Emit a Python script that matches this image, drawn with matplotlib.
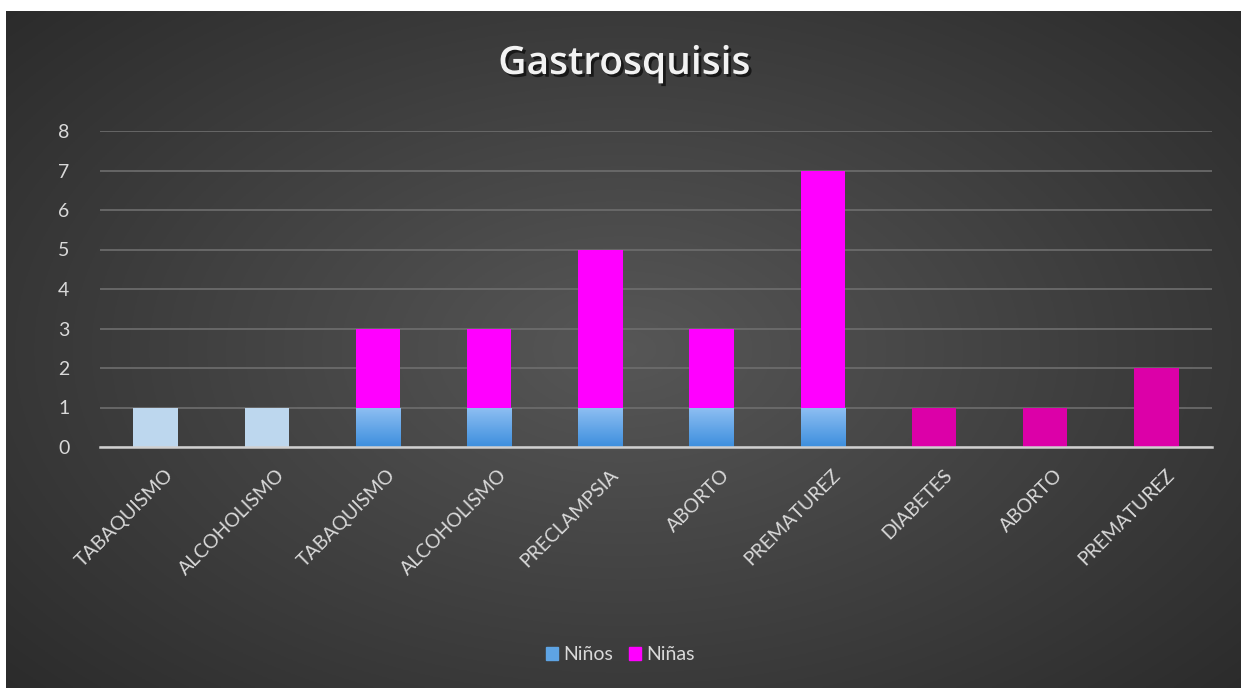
import numpy as np
import matplotlib.pyplot as plt
import matplotlib.patheffects as pe
from matplotlib.patches import Patch

# --- DATOS ---
categorias = ["TABAQUISMO", "ALCOHOLISMO", "TABAQUISMO", "ALCOHOLISMO", "PRECLAMPSIA",
              "ABORTO", "PREMATUREZ", "DIABETES", "ABORTO", "PREMATUREZ"]
ninos = [1, 1, 1, 1, 1, 1, 1, 0, 0, 0]
ninas = [0, 0, 2, 2, 4, 2, 6, 1, 1, 2]
yticks = [0, 1, 2, 3, 4, 5, 6, 7, 8]

# colores por barra (las dos primeras y las tres ultimas tienen otro tono)
col_ninos = ['#bdd7ee', '#bdd7ee'] + ['#5ea4e4'] * 5 + ['#5ea4e4'] * 3
col_ninas = ['#ff00ff'] * 7 + ['#dc00a8'] * 3

plt.rcParams['font.family'] = ['Lato', 'DejaVu Sans']
W, H = 1241, 688
fig = plt.figure(figsize=(W / 100, H / 100), dpi=100, facecolor='white')

# fondo oscuro con degradado radial
bg = fig.add_axes([6 / W, 0, 1 - 6 / W, (H - 11) / H])
yy, xx = np.mgrid[-1:1:300j, -1:1:500j]
r = np.sqrt(xx ** 2 + (yy * 0.9) ** 2)
grad = np.clip(1 - r / 1.35, 0, 1)
img = 0.17 + 0.17 * grad
bg.imshow(np.dstack([img, img, img]), aspect='auto', extent=[0, 1, 0, 1])
bg.set_axis_off()

# --- GRAFICO ---
ax = fig.add_axes([100 / W, (H - 447) / H, 1112 / W, 316 / H])
ax.patch.set_alpha(0)
x = np.arange(len(categorias))
ancho = 0.4
b1 = ax.bar(x, ninos, ancho, color=col_ninos, zorder=3)
ax.bar(x, ninas, ancho, bottom=ninos, color=col_ninas, zorder=3)

# degradado azul en las barras de niños (excepto las claras)
g = np.linspace(0, 1, 64)[:, None]
top_c = np.array([0.56, 0.75, 0.95])
bot_c = np.array([0.24, 0.56, 0.87])
grad_img = (bot_c[None, None, :] * (1 - g[..., None]) + top_c[None, None, :] * g[..., None])
for i, p in enumerate(b1.patches):
    if col_ninos[i] == '#5ea4e4' and ninos[i] > 0:
        x0, y0 = p.get_x(), p.get_y()
        im = ax.imshow(grad_img, extent=[x0, x0 + p.get_width(), y0, y0 + p.get_height()],
                       origin='lower', aspect='auto', zorder=3.5)
        im.set_clip_path(p)

ax.set_xlim(-0.5, len(categorias) - 0.5)
ax.set_ylim(0, 8)
ax.set_yticks(yticks)
ax.yaxis.grid(True, color='#6e6e6e', linewidth=1.2, zorder=0)
# etiquetas un poco desplazadas, como en Excel
ax.set_xticks(x + 0.08)
ax.set_xticklabels(categorias, rotation=45, ha='right', rotation_mode='anchor',
                   fontsize=14, color='#d9d9d9')
for lab in ax.get_yticklabels():
    lab.set_color('#d9d9d9')
    lab.set_fontsize(14)
ax.tick_params(length=0)
ax.tick_params(axis='y', pad=22)
ax.tick_params(axis='x', pad=14)
for s in ['top', 'right', 'left']:
    ax.spines[s].set_visible(False)
ax.spines['bottom'].set_color('#d0d0d0')
ax.spines['bottom'].set_linewidth(1.8)
ax.spines['bottom'].set_zorder(4)

fig.text(0.503, (H - 64) / H, "Gastrosquisis", ha='center', va='center',
         fontsize=28, fontweight='semibold', color='#f2f2f2',
         family=['Open Sans', 'DejaVu Sans'],
         path_effects=[pe.withSimplePatchShadow(offset=(2, -2), shadow_rgbFace='black', alpha=0.6)])

handles = [Patch(color='#5ea4e4', label='Niños'), Patch(color='#ff00ff', label='Niñas')]
fig.legend(handles=handles, loc='center', bbox_to_anchor=(0.5, (H - 655) / H), ncol=2,
           frameon=False, fontsize=14, labelcolor='#d9d9d9', handlelength=0.6,
           handleheight=0.6, handletextpad=0.3, columnspacing=0.8)

fig.savefig('out.png', dpi=100, facecolor='white')
